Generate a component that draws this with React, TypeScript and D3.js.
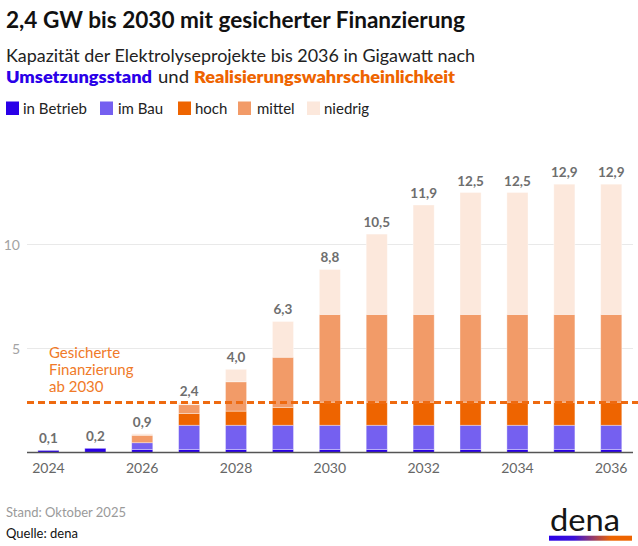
import * as d3 from 'd3';

// Kapazität der Elektrolyseprojekte in GW, je Jahr
const years = ['2024', '2025', '2026', '2027', '2028', '2029', '2030', '2031', '2032', '2033', '2034', '2035', '2036'];
const inBetrieb = [0.1, 0.2, 0.15, 0.15, 0.15, 0.15, 0.15, 0.15, 0.15, 0.15, 0.15, 0.15, 0.15];
const imBau = [0, 0, 0.32, 1.16, 1.16, 1.16, 1.16, 1.16, 1.16, 1.16, 1.16, 1.16, 1.16];
const hoch = [0, 0, 0, 0.56, 0.68, 0.86, 1.11, 1.11, 1.11, 1.11, 1.11, 1.11, 1.11];
const mittel = [0, 0, 0.36, 0.43, 1.41, 2.41, 4.22, 4.22, 4.22, 4.22, 4.22, 4.22, 4.22];
const niedrig = [0, 0, 0.07, 0.1, 0.6, 1.72, 2.16, 3.86, 5.26, 5.86, 5.86, 6.26, 6.26];
const seriesNames = ['in Betrieb', 'im Bau', 'hoch', 'mittel', 'niedrig'];
const seriesValues = [inBetrieb, imBau, hoch, mittel, niedrig];
const colors = ['#2a00e8', '#7560f0', '#ee6400', '#f29b68', '#fce8dc'];
const yTicks = [5, 10];
const xTickYears = ['2024', '2026', '2028', '2030', '2032', '2034', '2036'];
const gesichert = 2.4;

const font = 'Lato, "Noto Sans", sans-serif';

export default function App() {
  const x = d3
    .scaleBand()
    .domain(years)
    .range([25, 634.7])
    .paddingInner(0.55)
    .paddingOuter(0.275);
  const y = d3.scaleLinear().domain([0, 13]).range([452.5, 182.1]);

  const rows = years.map((yr, i) => {
    const r: any = { year: yr };
    seriesNames.forEach((n, s) => (r[n] = seriesValues[s][i]));
    return r;
  });
  const stack = d3.stack().keys(seriesNames)(rows);
  const totals = years.map((_, i) => d3.sum(seriesValues, (s) => s[i]));
  const fmt = (v: number) => d3.format('.1f')(v).replace('.', ',');

  // legend: square x, text x
  const legendX = [6, 100, 178, 238, 307];
  const legendTextX = [23, 118, 195, 257, 324];

  return (
    <svg
      width={638}
      height={546}
      style={{ position: 'absolute', left: 0, top: 0, fontFamily: font }}
    >
      <defs>
        <linearGradient id="denaGrad" x1="0" x2="1" y1="0" y2="0">
          <stop offset="0%" stopColor="#2a00e8" />
          <stop offset="30%" stopColor="#3a10d8" />
          <stop offset="75%" stopColor="#ee6400" />
          <stop offset="100%" stopColor="#ee6400" />
        </linearGradient>
      </defs>
      <rect width={638} height={546} fill="#fff" />

      <text x={6} y={28} fontSize={22.5} fontWeight={700} fill="#111" textLength={459} lengthAdjust="spacingAndGlyphs">
        2,4 GW bis 2030 mit gesicherter Finanzierung
      </text>
      <text x={6} y={62} fontSize={17} fill="#222" textLength={469} lengthAdjust="spacingAndGlyphs">
        Kapazität der Elektrolyseprojekte bis 2036 in Gigawatt nach
      </text>
      <text x={6} y={83} fontSize={17} fontWeight={800} fill="#2a00e8" textLength={146} lengthAdjust="spacingAndGlyphs">
        Umsetzungsstand
      </text>
      <text x={158} y={83} fontSize={17} fill="#222" textLength={31} lengthAdjust="spacingAndGlyphs">
        und
      </text>
      <text x={194} y={83} fontSize={17} fontWeight={800} fill="#ee6400" textLength={261} lengthAdjust="spacingAndGlyphs">
        Realisierungswahrscheinlichkeit
      </text>

      {seriesNames.map((n, i) => (
        <g key={n}>
          <rect x={legendX[i]} y={101.5} width={13} height={13.5} fill={colors[i]} />
          <text x={legendTextX[i]} y={113.5} fontSize={15} fill="#222">
            {n}
          </text>
        </g>
      ))}

      {yTicks.map((t) => (
        <g key={t}>
          <line x1={27} x2={633} y1={y(t)} y2={y(t)} stroke="#e9e9e9" strokeWidth={1} />
          <text x={20} y={y(t) + 5} fontSize={14} textAnchor="end" fill="#a3a3a3">
            {t}
          </text>
        </g>
      ))}

      {stack.map((layer, s) => (
        <g key={layer.key} fill={colors[s]}>
          {layer.map((d: any, i) =>
            d[1] - d[0] > 0 ? (
              <rect
                key={i}
                x={x(d.data.year)!}
                y={y(d[1])}
                width={x.bandwidth()}
                height={y(d[0]) - y(d[1])}
                stroke="rgba(255,255,255,0.45)"
                strokeWidth={0.8}
              />
            ) : null
          )}
        </g>
      ))}

      {years.map((yr, i) => (
        <text
          key={yr}
          x={x(yr)! + x.bandwidth() / 2}
          y={y(totals[i]) - 7}
          fontSize={13.5}
          fontWeight={700}
          textAnchor="middle"
          fill="#6e6e6e"
        >
          {fmt(totals[i])}
        </text>
      ))}

      <line x1={27} x2={633} y1={y(0)} y2={y(0)} stroke="#555" strokeWidth={1.5} />

      {xTickYears.map((yr) => (
        <text
          key={yr}
          x={x(yr)! + x.bandwidth() / 2}
          y={473}
          fontSize={14}
          textAnchor="middle"
          fill="#666"
        >
          {yr}
        </text>
      ))}

      <line
        x1={27}
        x2={638}
        y1={y(gesichert)}
        y2={y(gesichert)}
        stroke="#ee6a10"
        strokeWidth={3}
        strokeDasharray="7,4"
      />
      <text fontSize={15} fill="#f07a28">
        <tspan x={49} y={358}>Gesicherte</tspan>
        <tspan x={49} y={375}>Finanzierung</tspan>
        <tspan x={49} y={392}>ab 2030</tspan>
      </text>

      <text x={6} y={517} fontSize={13} fill="#9a9a9a">
        Stand: Oktober 2025
      </text>
      <text x={6} y={538} fontSize={13} fill="#111">
        Quelle: dena
      </text>

      <text x={550} y={531} fontSize={31} fill="#151515" textLength={70} lengthAdjust="spacingAndGlyphs">
        dena
      </text>
      <rect x={549} y={535.7} width={83} height={5} fill="url(#denaGrad)" />
    </svg>
  );
}
